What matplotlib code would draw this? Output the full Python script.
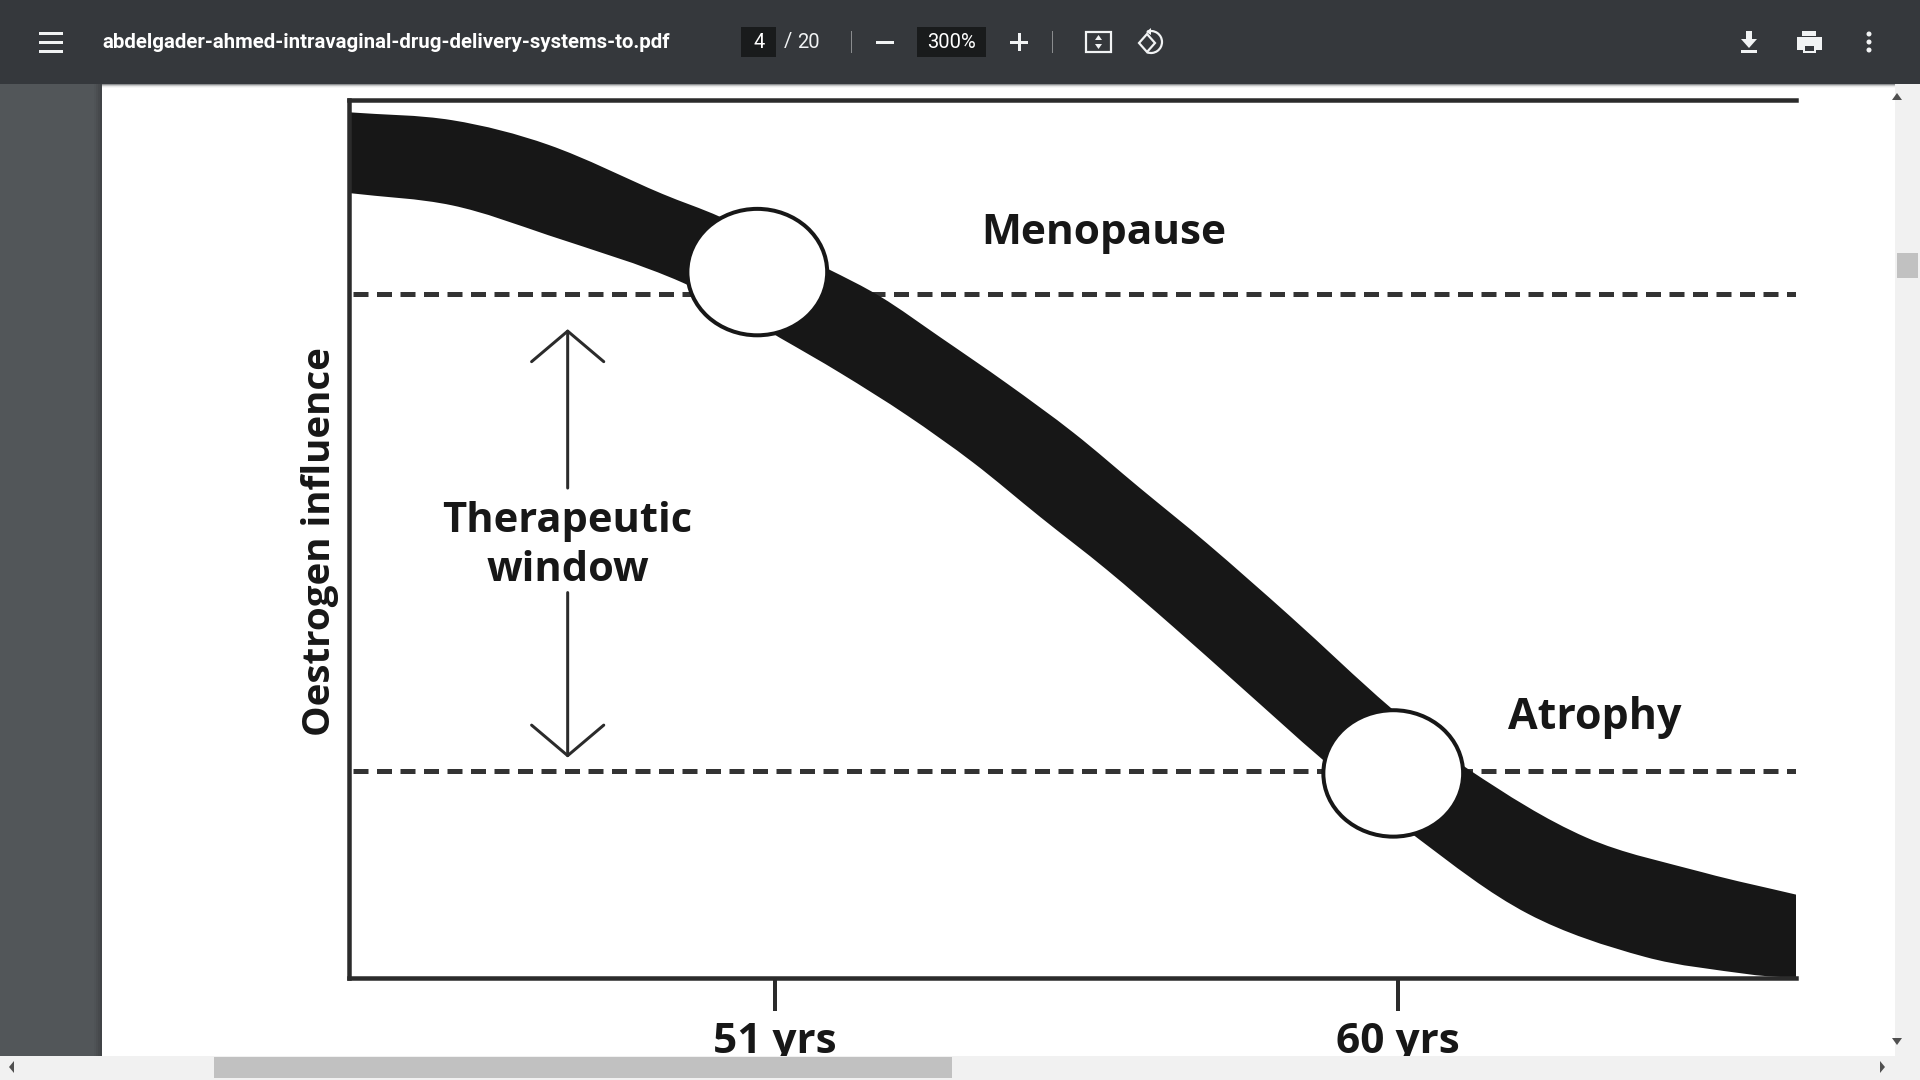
import numpy as np
import matplotlib
matplotlib.use('Agg')
import matplotlib.pyplot as plt
from matplotlib.patches import Ellipse, Rectangle, Polygon, Arc, PathPatch
from matplotlib.path import Path

# band edges, age vs oestrogen influence
upper_age = [44.84, 46.33, 47.72, 49.37, 50.2, 51.75, 52.52, 53.38, 54.35, 55.31, 56.27, 57.24, 58.44, 59.89, 61.03, 62.72, 64.42, 65.75]
upper_val = [98.6, 97.7, 94.9, 89.3, 86.7, 80.8, 77.6, 73.0, 67.7, 62.1, 55.8, 49.5, 41.2, 30.8, 23.7, 16.0, 12.0, 9.5]
lower_age = [44.84, 46.33, 47.72, 49.66, 51.07, 51.94, 52.9, 53.86, 54.83, 55.79, 56.75, 57.72, 58.92, 60.27, 61.88, 63.57, 65.09, 65.75]
lower_val = [89.4, 88.0, 84.6, 79.2, 72.9, 68.9, 64.1, 58.7, 52.5, 46.5, 40.0, 33.2, 24.8, 16.0, 7.3, 2.4, 0.4, 0.0]

tick_ages = [51, 60]
tick_labels = ['51 yrs', '60 yrs']
window_limits = [77.9, 23.6]
circle_age = [50.74, 59.93]
circle_val = [80.4, 23.3]

INK = '#171717'
BAR = '#35383c'
px = 0.72  # points per pixel at dpi 100
chart_font = ['Open Sans', 'DejaVu Sans']


def smooth_edge(xs, ys):
    # bezier segments through the read points, tangent direction from the neighbours
    pts = np.column_stack([xs, ys]) * [69.2, 8.78]  # in screen pixels so the tangents are true
    tan = np.gradient(pts, axis=0)
    tan = tan / np.linalg.norm(tan, axis=1, keepdims=True)
    verts = []
    for i in range(len(pts)-1):
        d = np.linalg.norm(pts[i+1] - pts[i]) / 3
        verts += [pts[i] + tan[i]*d, pts[i+1] - tan[i+1]*d, pts[i+1]]
    return [v / [69.2, 8.78] for v in verts]


fig = plt.figure(figsize=(19.2, 10.8), dpi=100, facecolor='white')
ax = fig.add_axes([349/1920, (1080-978)/1080, (1796-349)/1920, (978-100)/1080])
ax.set_xlim(44.84, 65.75)
ax.set_ylim(0, 100)

# black band
up = smooth_edge(upper_age, upper_val)
lo = smooth_edge(lower_age[::-1], lower_val[::-1])
start = (upper_age[0], upper_val[0])
end = (lower_age[-1], lower_val[-1])
verts = [start] + up + [end] + lo + [start]
codes = [Path.MOVETO] + [Path.CURVE4]*len(up) + [Path.LINETO] + [Path.CURVE4]*len(lo) + [Path.CLOSEPOLY]
ax.add_patch(PathPatch(Path(verts, codes), fc=INK, ec='none', zorder=2))

# dashed limits, broken by the two circles
ax.plot([44.9, 65.75], [window_limits[0]]*2, color='#333333', lw=5*px, dashes=(3.0, 1.7), zorder=1)
ax.plot([44.9, 65.75], [window_limits[1]]*2, color='#333333', lw=5*px, dashes=(3.0, 1.7), zorder=1)

for a, v in zip(circle_age, circle_val):
    ax.add_patch(Ellipse((a, v), 2.02, 14.4, fc='white', ec=INK, lw=4*px, zorder=3))

for s in ['left', 'top', 'bottom']:
    ax.spines[s].set_color('#2b2b2b')
    ax.spines[s].set_linewidth(4.5*px)
ax.spines['right'].set_visible(False)
ax.set_yticks([])
ax.set_xticks(tick_ages)
ax.set_xticklabels(tick_labels, fontsize=30.5, fontweight='bold', family=chart_font, color=INK)
ax.tick_params(axis='x', length=33*px, width=4*px, color='#2b2b2b', pad=8)
ax.set_ylabel('Oestrogen influence', fontsize=27.7, fontweight='bold', family=chart_font, color=INK, labelpad=7, y=0.497)

# therapeutic window arrows
for y0, y1 in [(55.8, 73.9), (43.9, 25.1)]:
    ax.annotate('', xy=(48.0, y1), xytext=(48.0, y0), zorder=2,
                arrowprops=dict(arrowstyle='->,head_length=2.2,head_width=2.6', color='#2b2b2b', lw=3*px, shrinkA=0, shrinkB=0))
ax.text(48.0, 46.4 + 5.6, 'Therapeutic', ha='center', va='center', fontsize=30, fontweight='bold', family=chart_font, color=INK)
ax.text(48.0, 46.4, 'window', ha='center', va='center', fontsize=30, fontweight='bold', family=chart_font, color=INK)
ax.text(53.97, 84.85, 'Menopause', ha='left', va='center', fontsize=30.5, fontweight='bold', family=chart_font, color=INK)
ax.text(62.84, 29.7, 'Atrophy', ha='center', va='center', fontsize=31, fontweight='bold', family=chart_font, color=INK)

# pdf viewer around the chart, in screen pixels
ui = fig.add_axes([0, 0, 1, 1], zorder=5)
ui.set_xlim(0, 1920)
ui.set_ylim(1080, 0)
ui.axis('off')
ui.patch.set_alpha(0)


def box(x0, y0, x1, y1, c, **kw):
    ui.add_patch(Rectangle((x0, y0), x1-x0, y1-y0, fc=c, ec='none', **kw))


box(0, 84, 102, 1056, '#525659')
for i, c in enumerate(['#4f5356', '#4b4e51', '#46494c', '#414447']):
    box(94+2*i, 84, 96+2*i, 1056, c)
for i, c in enumerate(['#8f9193', '#c4c5c6', '#e8e8e8', '#f7f7f7']):
    box(102, 84+i, 1895, 85+i, c)
box(0, 0, 1920, 84, BAR)
box(1895, 84, 1920, 1056, '#f1f1f1')
box(0, 1056, 1920, 1080, '#f1f1f1')
box(1897, 253, 1918, 278, '#c1c1c1')
box(214, 1057, 952, 1078, '#c1c1c1')
ui.add_patch(Polygon([(1897, 93), (1892, 100), (1902, 100)], fc='#505050', ec='none'))
ui.add_patch(Polygon([(1892, 1038), (1902, 1038), (1897, 1045)], fc='#505050', ec='none'))
ui.add_patch(Polygon([(14, 1061), (14, 1073), (9, 1067)], fc='#505050', ec='none'))
ui.add_patch(Polygon([(1880, 1061), (1880, 1073), (1885, 1067)], fc='#505050', ec='none'))

# toolbar
for y in [33, 42, 51]:
    box(39, y-1.5, 63, y+1.5, '#f1f3f4')
ui.text(102, 42.5, 'abdelgader-ahmed-intravaginal-drug-delivery-systems-to.pdf', color='white', fontsize=14.7, family='Roboto', fontweight='bold', va='center')
box(741, 27, 776, 57, '#191b1c')
ui.text(759, 42.5, '4', color='white', fontsize=14.5, family='Roboto', ha='center', va='center')
ui.text(784, 42, '/', color='#f1f3f4', fontsize=14.5, family='Roboto', va='center')
ui.text(797, 42, '20', color='#f1f3f4', fontsize=14.5, family='Roboto', va='center')
box(850.5, 31, 852, 53, '#8a8c8e')
box(876, 41, 894, 43.5, '#f1f3f4')
box(917, 27, 986, 57, '#191b1c')
ui.text(951, 42.5, '300%', color='white', fontsize=14.5, family='Roboto', ha='center', va='center')
box(1010, 41, 1028, 43.5, '#f1f3f4')
box(1018, 33, 1020.5, 51, '#f1f3f4')
box(1051.5, 31, 1053, 53, '#8a8c8e')

# fit to page icon
ui.add_patch(Rectangle((1086, 32), 25, 20, fc='none', ec='#f1f3f4', lw=2.2*px))
ui.add_patch(Polygon([(1095, 40), (1102, 40), (1098.5, 35)], fc='#f1f3f4', ec='none'))
ui.add_patch(Polygon([(1095, 44), (1102, 44), (1098.5, 49)], fc='#f1f3f4', ec='none'))
# rotate icon
ui.add_patch(Polygon([(1139, 43), (1147, 34), (1155, 43), (1147, 52)], fc='none', ec='#f1f3f4', lw=2.2*px))
ui.add_patch(Arc((1151, 42), 22, 22, theta1=-110, theta2=110, ec='#f1f3f4', lw=2.2*px))
ui.add_patch(Polygon([(1151, 28), (1151, 35), (1146, 32)], fc='#f1f3f4', ec='none'))
# download icon
box(1741, 50, 1757, 52.5, '#f1f3f4')
box(1746, 31, 1752, 40, '#f1f3f4')
ui.add_patch(Polygon([(1741, 39), (1757, 39), (1749, 48)], fc='#f1f3f4', ec='none'))
# print icon
box(1802, 31, 1816, 36, '#f1f3f4')
box(1797, 37, 1822, 50, '#f1f3f4')
box(1803, 44, 1816, 53, '#f1f3f4')
box(1805, 46, 1814, 51, BAR)
# menu dots
for y in [34, 42, 50]:
    ui.add_patch(Ellipse((1869, y), 5, 5, fc='#f1f3f4', ec='none'))

fig.savefig('out.png', dpi=100)
